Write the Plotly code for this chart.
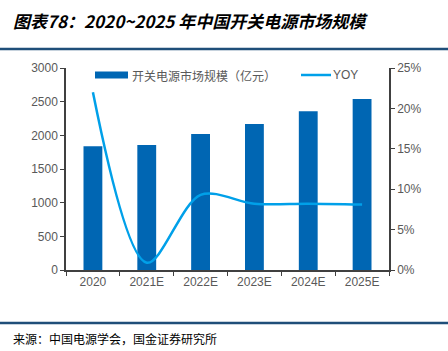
import plotly.graph_objects as go

categories = ["2020", "2021E", "2022E", "2023E", "2024E", "2025E"]
market_size = [1838, 1856, 2020, 2168, 2357, 2540]
yoy = [0.220, 0.009, 0.093, 0.082, 0.082, 0.081]

bar_name = "开关电源市场规模（亿元）"
line_name = "YOY"
title_text = "图表78：2020~2025 年中国开关电源市场规模"
source_text = "来源：中国电源学会，国金证券研究所"

BAR_COLOR = "#0066B3"
LINE_COLOR = "#00A0E9"
TICK_COLOR = "#595959"
AXIS_COLOR = "#404040"
RULE_COLOR = "#1F4E79"

W, H = 448, 351
L, R, T, B = 66, 59, 68, 81

fig = go.Figure()
fig.add_trace(go.Bar(x=categories, y=market_size, name=bar_name,
                     marker=dict(color=BAR_COLOR, line=dict(width=0)),
                     width=0.35, showlegend=False))
fig.add_trace(go.Scatter(x=categories, y=yoy, name=line_name, yaxis="y2",
                         mode="lines", line=dict(color=LINE_COLOR, width=2.5, shape="spline", smoothing=0.9),
                         showlegend=False))

# pixel -> paper (plot-area relative) coordinates
def dx(p):
    return (p - L) / (W - L - R)
def dy(p):
    return (H - B - p) / (H - T - B)

shapes = [
    dict(type="line", xref="paper", yref="paper", x0=dx(0), x1=dx(W), y0=dy(49), y1=dy(49),
         line=dict(color=RULE_COLOR, width=2.5)),
    dict(type="line", xref="paper", yref="paper", x0=dx(0), x1=dx(W), y0=dy(323), y1=dy(323),
         line=dict(color=RULE_COLOR, width=2.5)),
    dict(type="rect", xref="paper", yref="paper", x0=dx(95), x1=dx(128),
         y0=dy(78.5), y1=dy(71.5), fillcolor=BAR_COLOR, line=dict(width=0)),
    dict(type="line", xref="paper", yref="paper", x0=dx(301), x1=dx(331),
         y0=dy(75), y1=dy(75), line=dict(color=LINE_COLOR, width=2.5)),
]

annotations = [
    dict(text="<b><i>" + title_text + "</i></b>", xref="paper", yref="paper",
         x=dx(11), y=dy(20), xanchor="left", yanchor="middle", showarrow=False,
         font=dict(size=17, color="#000000", family="Noto Sans CJK SC")),
    dict(text=source_text, xref="paper", yref="paper",
         x=dx(11), y=dy(338), xanchor="left", yanchor="middle", showarrow=False,
         font=dict(size=12, color="#000000", family="Noto Sans CJK SC")),
    dict(text=bar_name, xref="paper", yref="paper", x=dx(130), y=dy(75),
         xanchor="left", yanchor="middle", showarrow=False,
         font=dict(size=12, color=TICK_COLOR, family="Noto Sans CJK SC")),
    dict(text=line_name, xref="paper", yref="paper", x=dx(331), y=dy(75),
         xanchor="left", yanchor="middle", showarrow=False,
         font=dict(size=12, color=TICK_COLOR, family="Liberation Sans")),
]

fig.update_layout(
    width=W, height=H,
    margin=dict(l=L, r=R, t=T, b=B, pad=0),
    paper_bgcolor="white", plot_bgcolor="white",
    font=dict(family="Liberation Sans", size=12, color=TICK_COLOR),
    xaxis=dict(type="category", showline=True, linecolor=AXIS_COLOR, linewidth=1.5,
               ticks="outside", tickson="boundaries", ticklen=4, tickcolor=AXIS_COLOR,
               showgrid=False, tickfont=dict(size=12, color=TICK_COLOR)),
    yaxis=dict(range=[0, 3000], dtick=500, showline=True, linecolor=AXIS_COLOR, linewidth=1.5,
               ticks="outside", ticklen=4, tickcolor=AXIS_COLOR, showgrid=False, zeroline=False,
               tickfont=dict(size=12, color=TICK_COLOR)),
    yaxis2=dict(range=[0, 0.25], dtick=0.05, tickformat=".0%", overlaying="y", side="right",
                showline=True, linecolor=AXIS_COLOR, linewidth=1.5, ticks="outside", ticklen=4,
                tickcolor=AXIS_COLOR, showgrid=False, zeroline=False,
                tickfont=dict(size=12, color=TICK_COLOR)),
    shapes=shapes,
    annotations=annotations,
)

fig.write_html("out.html")
